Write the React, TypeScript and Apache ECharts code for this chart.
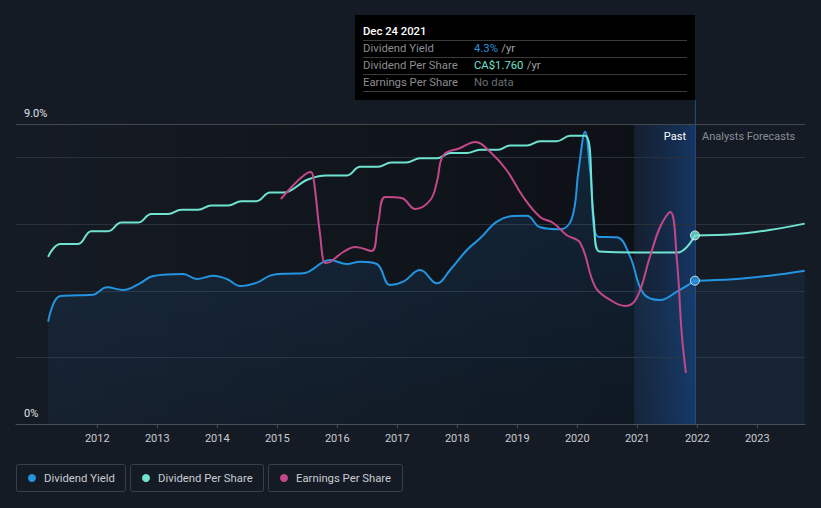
import React, { useEffect, useRef } from "react";
import * as echarts from "echarts";

// x in decimal years
const yieldData: [number, number][] = [
  [2011.18, 3.07], [2011.38, 3.84], [2011.7, 3.86], [2011.93, 3.88], [2012.16, 4.1],
  [2012.43, 4.02], [2012.71, 4.22], [2012.93, 4.44], [2013.43, 4.5], [2013.66, 4.35],
  [2013.93, 4.45], [2014.16, 4.35], [2014.38, 4.14], [2014.66, 4.24], [2014.88, 4.45],
  [2015.16, 4.51], [2015.43, 4.52], [2015.88, 4.92], [2016.16, 4.8], [2016.38, 4.87],
  [2016.66, 4.8], [2016.88, 4.17], [2017.1, 4.27], [2017.38, 4.62], [2017.66, 4.22],
  [2017.88, 4.62], [2018.16, 5.22], [2018.38, 5.57], [2018.66, 6.07], [2018.93, 6.24],
  [2019.16, 6.25], [2019.38, 5.9], [2019.71, 5.84], [2019.91, 6.17], [2020.02, 7.6],
  [2020.13, 8.77], [2020.22, 7.5], [2020.35, 5.62], [2020.66, 5.6], [2020.88, 5.02],
  [2021.1, 3.92], [2021.38, 3.72], [2021.66, 3.97], [2021.96, 4.3],
];
const yieldForecast: [number, number][] = [
  [2021.96, 4.3], [2022.6, 4.34], [2023.2, 4.45], [2023.79, 4.6],
];

// dividend per share, CA$
const dpsData: [number, number][] = [
  [2011.18, 1.56], [2011.38, 1.68], [2011.68, 1.68], [2011.9, 1.8], [2012.18, 1.8],
  [2012.4, 1.88], [2012.68, 1.88], [2012.9, 1.96], [2013.18, 1.96], [2013.4, 2.0],
  [2013.68, 2.0], [2013.9, 2.04], [2014.18, 2.04], [2014.4, 2.08], [2014.65, 2.08],
  [2014.88, 2.16], [2015.1, 2.16], [2015.5, 2.28], [2015.82, 2.32], [2016.16, 2.32],
  [2016.38, 2.4], [2016.68, 2.4], [2016.9, 2.44], [2017.15, 2.44], [2017.38, 2.48],
  [2017.66, 2.48], [2017.88, 2.53], [2018.16, 2.53], [2018.38, 2.56], [2018.68, 2.56],
  [2018.88, 2.6], [2019.16, 2.6], [2019.38, 2.64], [2019.66, 2.64], [2019.88, 2.69],
  [2020.13, 2.69], [2020.27, 1.94], [2020.37, 1.61], [2021.66, 1.6], [2021.96, 1.76],
];
const dpsForecast: [number, number][] = [
  [2021.96, 1.76], [2022.6, 1.77], [2023.2, 1.81], [2023.79, 1.87],
];

// earnings per share (relative scale)
const epsData: [number, number][] = [
  [2015.06, 2.25], [2015.27, 2.39], [2015.43, 2.48], [2015.55, 2.52], [2015.6, 2.47],
  [2015.71, 1.91], [2015.8, 1.61], [2015.88, 1.62], [2016.1, 1.72], [2016.3, 1.77],
  [2016.57, 1.73], [2016.68, 2.01], [2016.8, 2.27], [2017.07, 2.26], [2017.3, 2.15],
  [2017.55, 2.24], [2017.66, 2.42], [2017.77, 2.69], [2018.05, 2.76], [2018.3, 2.82],
  [2018.55, 2.72], [2018.82, 2.54], [2019.1, 2.27], [2019.38, 2.07], [2019.6, 2.01],
  [2019.82, 1.89], [2020.05, 1.81], [2020.3, 1.37], [2020.55, 1.24], [2020.8, 1.18],
  [2020.99, 1.26], [2021.21, 1.67], [2021.38, 1.97], [2021.55, 2.12], [2021.66, 1.64],
  [2021.74, 0.91], [2021.81, 0.51],
];

const yearTicks = [2012, 2013, 2014, 2015, 2016, 2017, 2018, 2019, 2020, 2021, 2022, 2023];
const yGridValues = [2, 4, 6, 8];

const BLUE = "#2394df";
const TEAL = "#6fe3d0";
const PINK = "#c2488a";
const FONT = "Roboto, 'Noto Sans', sans-serif";

export default function App() {
  const ref = useRef<HTMLDivElement>(null);
  useEffect(() => {
    const chart = echarts.init(ref.current!, undefined, { renderer: "svg" });
    const gridLeft = 16, gridRight = 805, gridTop = 124, gridBottom = 424;
    const xMin = 2010.645, xMax = 2023.795;
    const px = (yr: number) => gridLeft + ((yr - xMin) / (xMax - xMin)) * (gridRight - gridLeft);
    const py = (v: number) => gridBottom - (v / 9) * (gridBottom - gridTop);
    const x2021 = px(2020.95);
    const xNow = px(2021.96);

    const legendItems = [
      { label: "Dividend Yield", color: BLUE, x: 16, w: 109 },
      { label: "Dividend Per Share", color: TEAL, x: 130, w: 133 },
      { label: "Earnings Per Share", color: PINK, x: 268, w: 134 },
    ];
    const legendGraphics: any[] = [];
    legendItems.forEach((it) => {
      legendGraphics.push({
        type: "rect", shape: { x: it.x + 0.5, y: 464.5, width: it.w, height: 27, r: 2 },
        style: { fill: "transparent", stroke: "#3a4049", lineWidth: 1 },
      });
      legendGraphics.push({
        type: "circle", shape: { cx: it.x + 16, cy: 478, r: 4 }, style: { fill: it.color },
      });
      legendGraphics.push({
        type: "text", x: it.x + 28, y: 478,
        style: { text: it.label, fill: "#c9ccd1", font: `11.3px ${FONT}`, verticalAlign: "middle" },
      });
    });

    const tipRows = [
      { k: "Dividend Yield", v: "4.3%", vc: BLUE, y: 48 },
      { k: "Dividend Per Share", v: "CA$1.760", vc: TEAL, y: 65 },
      { k: "Earnings Per Share", v: "No data", vc: "#6b6f75", y: 82 },
    ];
    const tipGraphics: any[] = [
      { type: "rect", shape: { x: 355, y: 15, width: 340, height: 85 }, style: { fill: "#000000" } },
      { type: "text", x: 363, y: 31, style: { text: "Dec 24 2021", fill: "#ffffff", font: `500 11.3px ${FONT}`, verticalAlign: "middle" } },
    ];
    [40, 57, 74, 91].forEach((ly) =>
      tipGraphics.push({ type: "line", shape: { x1: 363, y1: ly + 0.5, x2: 687, y2: ly + 0.5 }, style: { stroke: "#3a3a3a", lineWidth: 1 } })
    );
    tipRows.forEach((r) => {
      tipGraphics.push({ type: "text", x: 363, y: r.y, style: { text: r.k, fill: "#8a8d92", font: `11.3px ${FONT}`, verticalAlign: "middle" } });
      tipGraphics.push({
        type: "text", x: 474, y: r.y,
        style: {
          text: r.vc === "#6b6f75" ? `{v|${r.v}}` : `{v|${r.v}} {u|/yr}`,
          verticalAlign: "middle",
          rich: { v: { fill: r.vc, font: `11.3px ${FONT}` }, u: { fill: "#a0a3a8", font: `11.3px ${FONT}` } },
        },
      });
    });

    const gridLines = yGridValues.map((v) => ({
      type: "line", silent: true, z: -1,
      shape: { x1: gridLeft, y1: Math.round(py(v)) + 0.5, x2: gridRight, y2: Math.round(py(v)) + 0.5 },
      style: { stroke: "#2b313a", lineWidth: 1 },
    }));

    chart.setOption({
      animation: false,
      backgroundColor: "#151b24",
      grid: { left: gridLeft, right: 821 - gridRight, top: gridTop, bottom: 508 - gridBottom },
      xAxis: {
        type: "value", min: xMin, max: xMax,
        axisLine: { show: true, lineStyle: { color: "#4a4f57" } },
        axisTick: { show: true, customValues: yearTicks, length: 4, lineStyle: { color: "#4a4f57" } },
        axisLabel: { customValues: yearTicks, color: "#c9ccd1", fontSize: 11, fontFamily: FONT, margin: 9, formatter: (v: number) => String(Math.round(v)) },
        splitLine: { show: false },
      },
      yAxis: [
        {
          type: "value", min: 0, max: 9, interval: 1, position: "left",
          axisLine: { show: false }, axisTick: { show: false },
          axisLabel: {
            inside: true, margin: 8, verticalAlign: "bottom", padding: [0, 0, 5, 0],
            color: "#e0e2e5", fontSize: 11, fontFamily: FONT,
            formatter: (v: number) => (v === 9 ? "9.0%" : v === 0 ? "0%" : ""),
          },
          splitLine: { show: false },
        },
        { type: "value", min: 0, max: 2.8, show: false, splitLine: { show: false } },
        { type: "value", min: 0, max: 3.0, show: false, splitLine: { show: false } },
      ],
      graphic: [
        {
          type: "rect", z: -2, silent: true,
          shape: { x: gridLeft, y: gridTop, width: x2021 - gridLeft, height: gridBottom - gridTop },
          style: {
            fill: new echarts.graphic.LinearGradient(0, 0, 1, 0, [
              { offset: 0, color: "rgba(0,0,0,0)" },
              { offset: 1, color: "rgba(0,0,0,0.38)" },
            ]),
          },
        },
        {
          type: "rect", z: -2, silent: true,
          shape: { x: x2021, y: gridTop, width: xNow - x2021, height: gridBottom - gridTop },
          style: {
            fill: new echarts.graphic.LinearGradient(0, 0, 1, 0, [
              { offset: 0, color: "rgba(20,60,120,0.15)" },
              { offset: 1, color: "rgba(20,75,150,0.55)" },
            ]),
          },
        },
        ...gridLines,
        {
          type: "line", silent: true, z: 1,
          shape: { x1: xNow + 0.5, y1: 100, x2: xNow + 0.5, y2: gridBottom },
          style: { stroke: "#1f4f8f", lineWidth: 1 },
        },
        {
          type: "line", silent: true, z: 1,
          shape: { x1: gridLeft, y1: gridTop + 0.5, x2: gridRight, y2: gridTop + 0.5 },
          style: { stroke: "#43484f", lineWidth: 1 },
        },
        { type: "text", x: 686, y: 136, style: { text: "Past", fill: "#ffffff", font: `11px ${FONT}`, align: "right", verticalAlign: "middle" } },
        { type: "text", x: 702, y: 136, style: { text: "Analysts Forecasts", fill: "#8a8e94", font: `11px ${FONT}`, align: "left", verticalAlign: "middle" } },
        ...tipGraphics,
        ...legendGraphics,
      ],
      series: [
        {
          type: "line", name: "Dividend Yield", data: yieldData, smooth: 0.4, symbol: "none",
          lineStyle: { color: BLUE, width: 2 },
          areaStyle: {
            color: new echarts.graphic.LinearGradient(0, 0, 0, 1, [
              { offset: 0, color: "rgba(35,120,190,0.28)" },
              { offset: 1, color: "rgba(35,100,170,0.12)" },
            ]),
          },
          z: 3,
        },
        {
          type: "line", name: "Dividend Yield F", data: yieldForecast, smooth: 0.4, symbol: "none",
          lineStyle: { color: BLUE, width: 2 },
          areaStyle: { color: "rgba(35,110,180,0.15)" },
          z: 3,
        },
        {
          type: "line", name: "Dividend Per Share", data: dpsData, yAxisIndex: 1, smooth: 0.4, symbol: "none",
          lineStyle: { color: TEAL, width: 2 }, z: 4,
        },
        {
          type: "line", name: "Dividend Per Share F", data: dpsForecast, yAxisIndex: 1, smooth: 0.4, symbol: "none",
          lineStyle: { color: TEAL, width: 2 }, z: 4,
        },
        {
          type: "line", name: "Earnings Per Share", data: epsData, yAxisIndex: 2, smooth: 0.4, symbol: "none",
          lineStyle: { color: PINK, width: 2 }, z: 5,
        },
        {
          type: "scatter", data: [yieldForecast[0]], symbolSize: 9, z: 6,
          itemStyle: { color: BLUE, borderColor: "#ffffff", borderWidth: 1 },
        },
        {
          type: "scatter", data: [dpsForecast[0]], yAxisIndex: 1, symbolSize: 9, z: 6,
          itemStyle: { color: TEAL, borderColor: "#ffffff", borderWidth: 1 },
        },
      ],
    });
    return () => chart.dispose();
  }, []);
  return <div ref={ref} style={{ width: 821, height: 508, position: "absolute", left: 0, top: 0 }} />;
}
